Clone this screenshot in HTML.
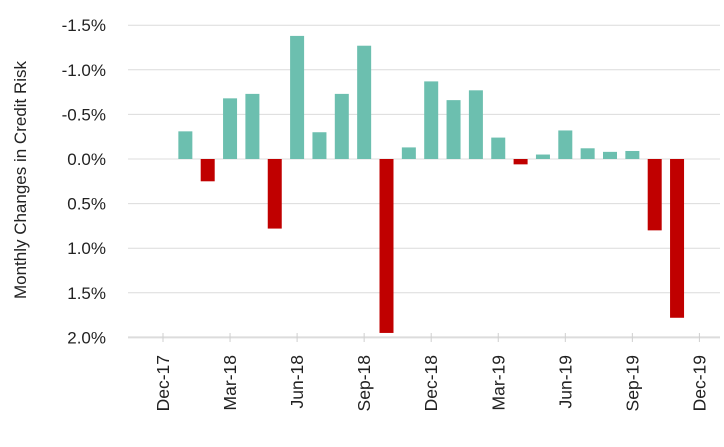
<!DOCTYPE html>
<html><head><meta charset="utf-8"><style>
body{margin:0;background:#fff;}
svg text{font-family:"Liberation Sans",sans-serif;fill:#222;}
</style></head><body>
<svg width="724" height="442">
<g id="grid"></g><g id="bars"></g><g id="xaxis"></g><g id="yaxis"></g>
<text transform="translate(26,180) rotate(-90)" text-anchor="middle" font-size="17">Monthly Changes in Credit Risk</text>
</svg>
<script>
const months=["Dec-17","Jan-18","Feb-18","Mar-18","Apr-18","May-18","Jun-18","Jul-18","Aug-18","Sep-18","Oct-18","Nov-18","Dec-18","Jan-19","Feb-19","Mar-19","Apr-19","May-19","Jun-19","Jul-19","Aug-19","Sep-19","Oct-19","Nov-19","Dec-19"];
const values=[null,-0.31,0.25,-0.68,-0.73,0.78,-1.38,-0.30,-0.73,-1.27,1.95,-0.13,-0.87,-0.66,-0.77,-0.24,0.06,-0.05,-0.32,-0.12,-0.08,-0.09,0.80,1.78,null];
const yTicks=[-1.5,-1.0,-0.5,0.0,0.5,1.0,1.5,2.0];
const tickLabels=["Dec-17","Mar-18","Jun-18","Sep-18","Dec-18","Mar-19","Jun-19","Sep-19","Dec-19"];
const NS="http://www.w3.org/2000/svg";
const y=v=>159+v*89.2;
const x=i=>163+i*22.35;
function mk(tag,attrs,parent){const e=document.createElementNS(NS,tag);for(const k in attrs)e.setAttribute(k,attrs[k]);document.getElementById(parent).appendChild(e);return e;}
yTicks.forEach(t=>{
 const l=mk('line',{x1:128,x2:720,y1:y(t),y2:y(t),stroke:'#dcdcdc','stroke-width':t===2.0?2:1},'grid');
 
 
 const tx=mk('text',{x:106,y:y(t)+6,'text-anchor':'end','font-size':17},'yaxis');
 tx.textContent=Math.abs(t).toFixed(1)==='0.0'?'0.0%':(t<0?'-':'')+Math.abs(t).toFixed(1)+'%';
 
 
});
values.forEach((v,i)=>{
 if(v===null)return;
 const r=mk('rect',{x:x(i)-7,width:14,y:Math.min(y(v),y(0)),height:Math.abs(y(v)-y(0)),fill:v<0?'#6cbfaf':'#c00000'},'bars');
 
 
});
tickLabels.forEach(lab=>{
 const i=months.indexOf(lab);
 const tk=mk('line',{x1:x(i),x2:x(i),y1:333,y2:342,stroke:'#cfcfcf'},'xaxis');
 
 
 const t=mk('text',{transform:`translate(${x(i)+6},355) rotate(-90)`,'text-anchor':'end','font-size':17.5},'xaxis');
 t.textContent=lab;
 
 
});
</script>
</body></html>
